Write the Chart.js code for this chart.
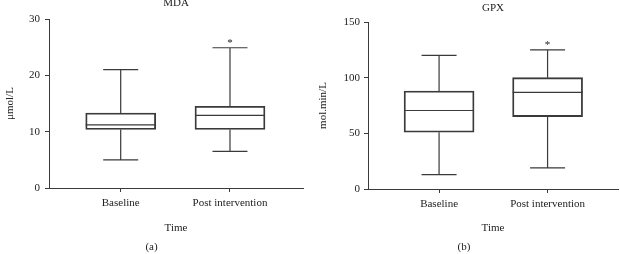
<!DOCTYPE html>
<html>
<head>
<meta charset="utf-8">
<script src="https://cdn.jsdelivr.net/npm/chart.js@4"></script>
<style>
  html, body { margin: 0; padding: 0; background: #fff; }
  #wrap { position: relative; width: 620px; height: 254px; }
  .panel { position: absolute; top: 0; width: 310px; height: 254px; }
</style>
</head>
<body>
<div id="wrap">
  <div class="panel" style="left:0"><canvas id="mdaChart" width="310" height="254"></canvas></div>
  <div class="panel" style="left:310px"><canvas id="gpxChart" width="310" height="254"></canvas></div>
</div>
<script>
// categories on the x axis
const categories = ['Baseline', 'Post intervention'];

// MDA (umol/L) box plot values
const mdaMin = [5.0, 6.5];
const mdaQ1 = [10.4, 10.4];
const mdaMedian = [11.2, 12.9];
const mdaQ3 = [13.3, 14.5];
const mdaMax = [21.0, 24.9];
const mdaTicks = [0, 10, 20, 30];

// GPX (mol.min/L) box plot values
const gpxMin = [13, 19];
const gpxQ1 = [51, 65];
const gpxMedian = [70.5, 86.8];
const gpxQ3 = [88, 100];
const gpxMax = [120, 125];
const gpxTicks = [0, 50, 100, 150];

// which group has the significance star
const starred = [false, true];

const lineColor = '#3a3a3a';
const textColor = '#222';
const serif = 'Liberation Serif';
const fontSize = 11;

// draws whiskers, caps, median and star on top of the floating bars
const boxWhiskers = {
  id: 'boxWhiskers',
  afterDatasetsDraw(chart, args, opts) {
    const ctx = chart.ctx;
    const y = chart.scales.y;
    const meta = chart.getDatasetMeta(0);
    ctx.save();
    ctx.strokeStyle = lineColor;
    ctx.lineWidth = 1.2;
    meta.data.forEach((bar, i) => {
      const x = bar.x;
      const half = bar.width / 2;
      const cap = bar.width / 4;
      const yMin = y.getPixelForValue(opts.min[i]);
      const yQ1 = y.getPixelForValue(opts.q1[i]);
      const yMed = y.getPixelForValue(opts.median[i]);
      const yQ3 = y.getPixelForValue(opts.q3[i]);
      const yMax = y.getPixelForValue(opts.max[i]);
      ctx.beginPath();
      ctx.moveTo(x, yQ3); ctx.lineTo(x, yMax);
      ctx.moveTo(x - cap, yMax); ctx.lineTo(x + cap, yMax);
      ctx.moveTo(x, yQ1); ctx.lineTo(x, yMin);
      ctx.moveTo(x - cap, yMin); ctx.lineTo(x + cap, yMin);
      ctx.moveTo(x - half, yMed); ctx.lineTo(x + half, yMed);
      ctx.stroke();
      if (starred[i]) {
        ctx.fillStyle = textColor;
        ctx.font = fontSize + 'px "' + serif + '"';
        ctx.textAlign = 'center';
        ctx.textBaseline = 'middle';
        ctx.fillText('*', x, yMax - 5);
      }
    });
    ctx.restore();
  }
};

function makeBoxChart(id, cfg) {
  const ctx = document.getElementById(id).getContext('2d');
  const font = { family: serif, size: fontSize, weight: 'normal', lineHeight: 1.2 };
  return new Chart(ctx, {
    type: 'bar',
    data: {
      datasets: [{
        data: categories.map((c, i) => ({ x: i + 1, y: [cfg.q1[i], cfg.q3[i]] })),
        backgroundColor: 'rgba(0,0,0,0)',
        borderColor: lineColor,
        borderWidth: 1.2,
        borderSkipped: false,
        barThickness: 70
      }]
    },
    options: {
      responsive: false,
      animation: false,
      layout: { padding: { left: 0, right: cfg.padRight, top: 0, bottom: 0 } },
      plugins: {
        legend: { display: false },
        tooltip: { enabled: false },
        title: {
          display: true,
          text: cfg.title,
          fullSize: false,
          color: textColor,
          font: font,
          padding: cfg.titlePad
        },
        subtitle: {
          display: true,
          position: 'bottom',
          text: cfg.panel,
          color: textColor,
          font: font,
          padding: 0
        },
        boxWhiskers: cfg
      },
      scales: {
        x: {
          type: 'linear',
          min: cfg.xMin,
          max: cfg.xMax,
          offset: false,
          afterBuildTicks: axis => { axis.ticks = categories.map((c, i) => ({ value: i + 1 })); },
          afterFit: axis => { axis.height = cfg.xHeight; },
          ticks: {
            color: textColor,
            font: font,
            padding: 5,
            maxRotation: 0,
            callback: v => categories[v - 1]
          },
          grid: { offset: false, drawOnChartArea: false, drawTicks: true, tickLength: 4, color: lineColor },
          border: { display: true, color: lineColor, width: 1 },
          title: {
            display: true,
            text: 'Time',
            color: textColor,
            font: font,
            padding: { top: 0, bottom: 6.2 }
          }
        },
        y: {
          min: cfg.ticks[0],
          max: cfg.ticks[cfg.ticks.length - 1],
          afterBuildTicks: axis => { axis.ticks = cfg.ticks.map(v => ({ value: v })); },
          afterFit: axis => { axis.width = cfg.yWidth; },
          ticks: {
            color: textColor,
            font: font,
            padding: cfg.tickPad
          },
          grid: { drawOnChartArea: false, drawTicks: true, tickLength: 4, color: lineColor },
          border: { display: true, color: lineColor, width: 1 },
          title: {
            display: true,
            text: cfg.yTitle,
            color: textColor,
            font: font,
            padding: { top: cfg.yTitlePad, bottom: 0 }
          }
        }
      }
    },
    plugins: [boxWhiskers]
  });
}

makeBoxChart('mdaChart', {
  title: 'MDA', panel: '(a)', yTitle: 'μmol/L',
  min: mdaMin, q1: mdaQ1, median: mdaMedian, q3: mdaQ3, max: mdaMax, ticks: mdaTicks,
  xMin: 0.344, xMax: 2.668, xHeight: 52.8, yWidth: 49, padRight: 7,
  titlePad: { top: -3, bottom: 8.8 }, tickPad: 5, yTitlePad: 3.4
});

makeBoxChart('gpxChart', {
  title: 'GPX', panel: '(b)', yTitle: 'mol.min/L',
  min: gpxMin, q1: gpxQ1, median: gpxMedian, q3: gpxQ3, max: gpxMax, ticks: gpxTicks,
  xMin: 0.345, xMax: 2.649, xHeight: 51.8, yWidth: 58, padRight: 2,
  titlePad: { top: 1.4, bottom: 7.4 }, tickPad: 4, yTitlePad: 6.4
});
</script>
</body>
</html>
